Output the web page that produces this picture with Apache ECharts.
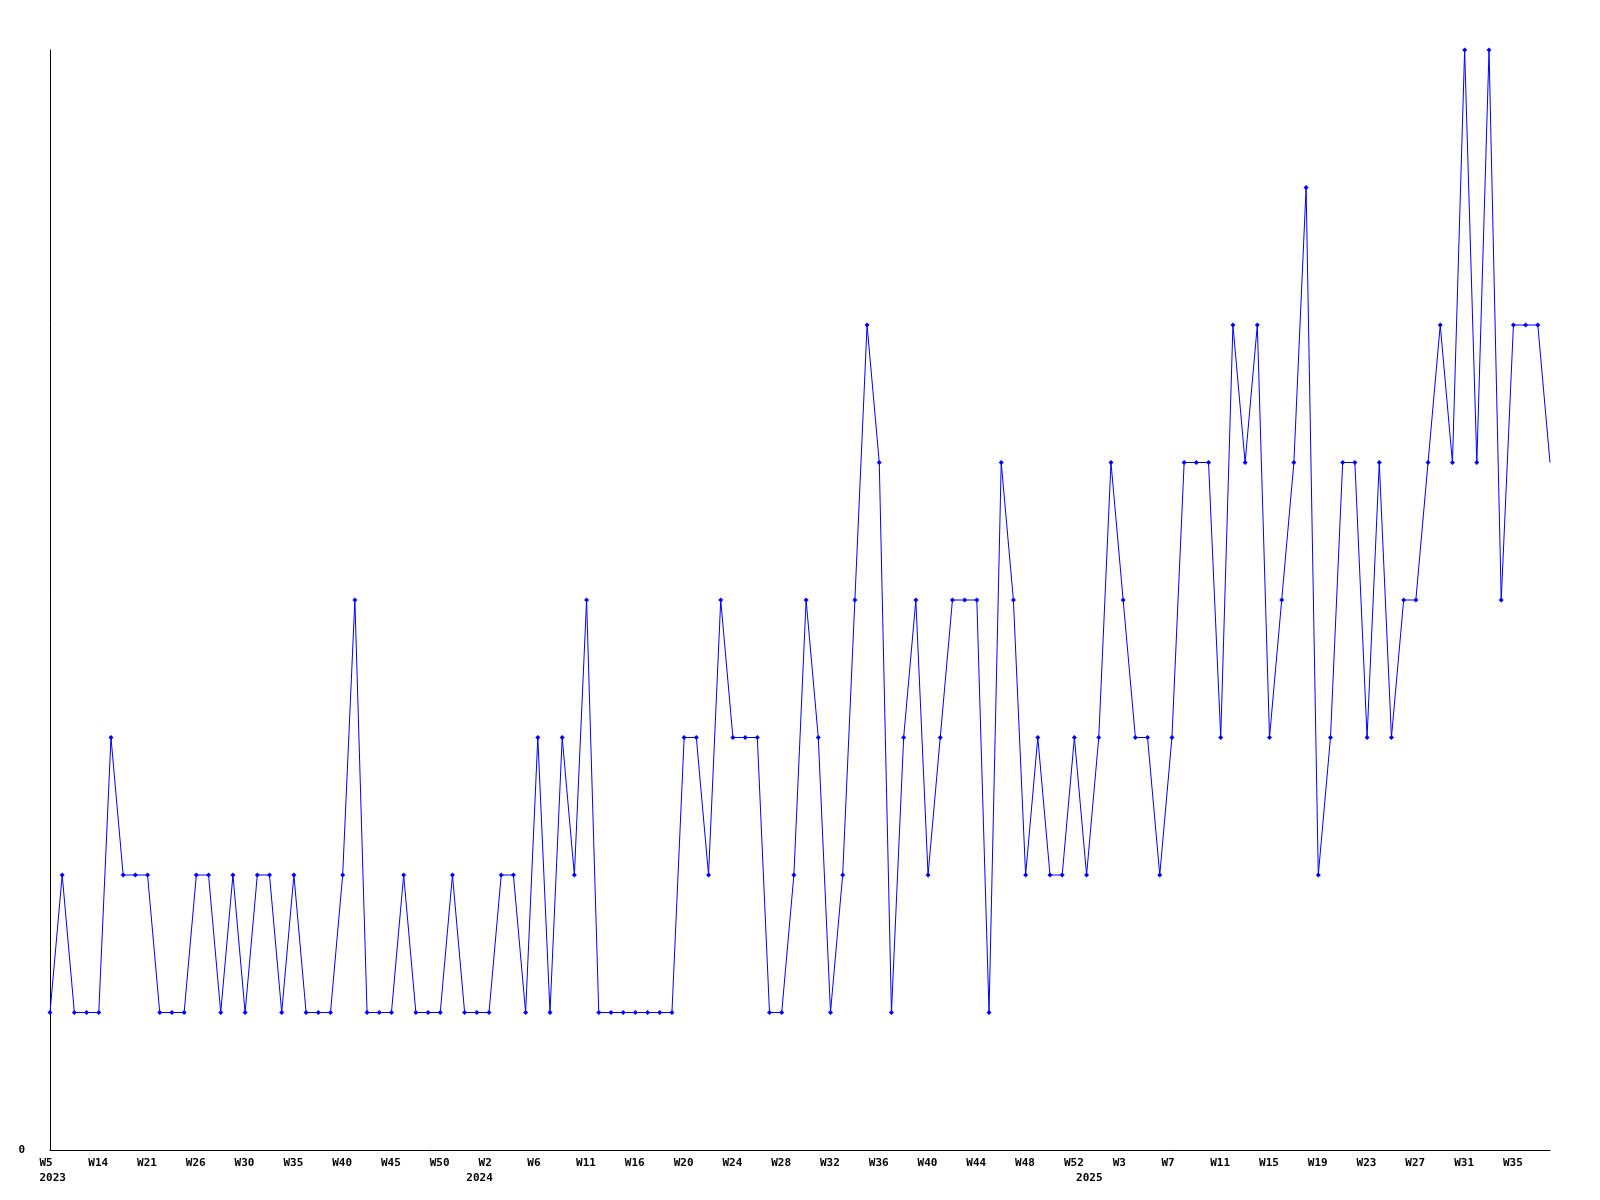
<!DOCTYPE html>
<html>
<head>
<meta charset="utf-8">
<script src="https://cdn.jsdelivr.net/npm/echarts@6/dist/echarts.min.js"></script>
<style>
html,body{margin:0;padding:0;background:#fff;}
#chart{width:1600px;height:1200px;}
</style>
</head>
<body>
<div id="chart"></div>
<script>
// Week numbers present in the data, per year
const weeks2023 = [5,7,9,11,14,15,17,19,21,22,23,25,26,27,28,29,30,31,32,34,35,36,37,39,40,41,42,44,45,46,47,49,50,51,52];
const weeks2024 = [1,2,3,4,5,6,7,8,10,11,12,13,15,16,17,18,19,20,21,22,23,24,25,26,27,28,29,30,31,32,33,34,35,36,37,38,39,40,41,42,43,44,45,46,47,48,49,50,51,52];
const weeks2025 = [0,1,2,3,4,5,6,7,8,9,10,11,12,13,14,15,16,17,18,19,20,21,22,23,24,25,26,27,28,29,30,31,32,33,34,35,36,37,38];

// Weekly values
const values = [
  1,2,1,1,1,3,2,2,2,1,1,1,2,2,1,2,1,2,2,1,2,1,1,1,2,4,1,1,1,2,1,1,1,2,1,
  1,1,2,2,1,3,1,3,2,4,1,1,1,1,1,1,1,3,3,2,4,3,3,3,1,1,2,4,3,1,2,4,6,5,1,
  3,4,2,3,4,4,4,1,5,4,2,3,2,2,3,
  2,3,5,4,3,3,2,3,5,5,5,3,6,5,6,3,4,5,7,2,3,5,5,3,5,3,4,4,5,6,5,8,5,8,4,6,6,6,5
];

// y-axis range / tick labels
const yMin = 0, yMax = 8;
const yTickLabels = ['0'];

const categories = []
  .concat(weeks2023.map(w => '2023-W' + w))
  .concat(weeks2024.map(w => '2024-W' + w))
  .concat(weeks2025.map(w => '2025-W' + w));

const yearStarts = new Set([0, weeks2023.length, weeks2023.length + weeks2024.length]);

const FONT = 'DejaVu Sans Mono';
const chart = echarts.init(document.getElementById('chart'), null, {renderer: 'canvas'});

chart.setOption({
  animation: false,
  backgroundColor: '#ffffff',
  grid: [
    {left: 50, right: 50, top: 50, bottom: 50, containLabel: false},
    {left: 39.5, right: 60.5, top: 50, bottom: 50, containLabel: false}
  ],
  xAxis: [
    {
      type: 'category', gridIndex: 0, data: categories, boundaryGap: false,
      axisLine: {show: true, lineStyle: {color: '#000', width: 1}},
      axisTick: {show: false}, axisLabel: {show: false}, splitLine: {show: false}
    },
    {
      type: 'category', gridIndex: 1, data: categories, boundaryGap: false, position: 'bottom',
      axisLine: {show: false}, axisTick: {show: false}, splitLine: {show: false},
      axisLabel: {
        show: true, interval: 3, align: 'left', margin: 8,
        fontFamily: FONT, fontWeight: 'bold', fontSize: 11, color: '#000',
        formatter: v => v.split('-')[1]
      }
    },
    {
      type: 'category', gridIndex: 1, data: categories, boundaryGap: false, position: 'bottom',
      axisLine: {show: false}, axisTick: {show: false}, splitLine: {show: false},
      axisLabel: {
        show: true, align: 'left', margin: 23,
        interval: (idx) => yearStarts.has(idx),
        fontFamily: FONT, fontWeight: 'bold', fontSize: 11, color: '#000',
        formatter: v => v.split('-')[0]
      }
    }
  ],
  yAxis: [
    {
      type: 'value', gridIndex: 0, min: yMin, max: yMax, interval: yMax,
      axisLine: {show: true, lineStyle: {color: '#000', width: 1}},
      axisTick: {show: false}, splitLine: {show: false},
      axisLabel: {
        show: true, margin: 25, showMaxLabel: false,
        fontFamily: FONT, fontWeight: 'bold', fontSize: 11, color: '#000',
        formatter: (v) => (v === yMin ? yTickLabels[0] : '')
      }
    },
    {type: 'value', gridIndex: 1, min: yMin, max: yMax, show: false}
  ],
  series: [{
    type: 'line',
    xAxisIndex: 0, yAxisIndex: 0,
    data: values,
    showAllSymbol: true,
    symbol: (val, params) => (params.dataIndex === values.length - 1 ? 'none' : 'diamond'),
    symbolSize: 5,
    lineStyle: {color: '#0000ff', width: 1},
    itemStyle: {color: '#0000ff'},
    clip: false
  }]
});
</script>
</body>
</html>
